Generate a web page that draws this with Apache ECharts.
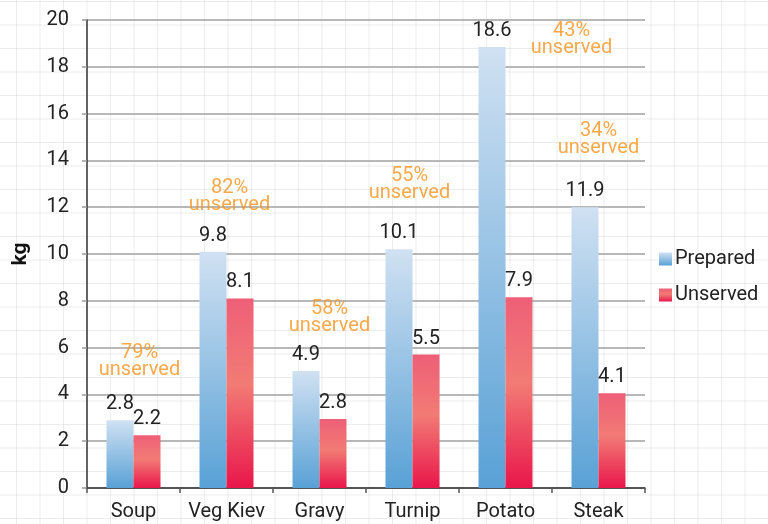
<!DOCTYPE html>
<html>
<head>
<meta charset="utf-8">
<script src="https://cdn.jsdelivr.net/npm/echarts@6/dist/echarts.min.js"></script>
<style>
  html, body {
    margin: 0;
    padding: 0;
    width: 768px;
    height: 524px;
    overflow: hidden;
    background-color: #fff;
    background-image:
      linear-gradient(to right, rgba(0, 0, 0, 0.07) 1px, transparent 1px),
      linear-gradient(to bottom, rgba(0, 0, 0, 0.07) 1px, transparent 1px);
    background-size: 23.5px 23.5px;
    background-position: 16px 1px;
  }
  #chart {
    width: 768px;
    height: 524px;
  }
</style>
</head>
<body>
<div id="chart"></div>
<script>
  // values
  var categories = ['Soup', 'Veg Kiev', 'Gravy', 'Turnip', 'Potato', 'Steak']
  var prepared = [2.9, 10.1, 5.0, 10.2, 18.85, 12.0]
  var unserved = [2.25, 8.1, 2.95, 5.7, 8.15, 4.05]
  var preparedLabels = ['2.8', '9.8', '4.9', '10.1', '18.6', '11.9']
  var unservedLabels = ['2.2', '8.1', '2.8', '5.5', '7.9', '4.1']
  var unservedPct = ['79%', '82%', '58%', '55%', '43%', '34%']
  var notePos = [5.4, 12.45, 7.3, 12.95, 19.15, 14.9]
  var noteShift = [6, 3, 10, -3, 66, 0]
  var yTicks = [0, 2, 4, 6, 8, 10, 12, 14, 16, 18, 20]

  var font = 'Roboto, "Liberation Sans", sans-serif'
  var fs = 20

  var myChart = echarts.init(document.getElementById('chart'))

  var blueGrad = new echarts.graphic.LinearGradient(0, 0, 0, 1, [
    { offset: 0, color: '#d0e1f2' },
    { offset: 1, color: '#59a1d6' },
  ])
  var redGrad = new echarts.graphic.LinearGradient(0, 0, 0, 1, [
    { offset: 0, color: '#ee5f77' },
    { offset: 0.45, color: '#f27b75' },
    { offset: 1, color: '#e9164a' },
  ])

  var option = {
    animation: false,
    textStyle: { fontFamily: font },
    grid: {
      left: 87,
      right: 123,
      top: 20,
      bottom: 36,
      containLabel: false,
      outerBoundsMode: 'none',
    },
    legend: {
      orient: 'vertical',
      left: 654,
      top: 244,
      itemWidth: 13,
      itemHeight: 13,
      itemGap: 16,
      icon: 'rect',
      data: ['Prepared', 'Unserved'],
      textStyle: { fontFamily: font, fontSize: fs, color: '#222', padding: [0, 0, 0, -2] },
    },
    xAxis: {
      type: 'category',
      data: categories,
      axisLine: { lineStyle: { color: '#333', width: 1.5 } },
      axisTick: { show: true, interval: 0, length: 5, lineStyle: { color: '#555', width: 1.5 } },
      axisLabel: { interval: 0, hideOverlap: false, fontFamily: font, fontSize: fs, color: '#222', margin: 14 },
    },
    yAxis: {
      type: 'value',
      min: 0,
      max: 20,
      interval: 2,
      name: 'kg',
      nameLocation: 'middle',
      nameGap: 56,
      nameRotate: 90,
      nameTextStyle: { fontFamily: font, fontSize: 21, fontWeight: 'bold', color: '#111' },
      axisLine: { show: true, lineStyle: { color: '#333', width: 1.5 } },
      axisTick: { show: true, length: 5, lineStyle: { color: '#999', width: 1.5 } },
      axisLabel: {
        fontFamily: font,
        fontSize: fs,
        color: '#222',
        margin: 18,
        formatter: function (v) {
          return yTicks.indexOf(v) >= 0 ? String(v) : ''
        },
      },
      splitLine: { lineStyle: { color: '#a0a0a0', width: 1.5 } },
    },
    series: [
      {
        name: 'Prepared',
        type: 'bar',
        barWidth: 27,
        barGap: '0%',
        itemStyle: { color: blueGrad },
        label: {
          show: true,
          position: 'top',
          distance: 6,
          fontFamily: font,
          fontSize: fs,
          color: '#222',
          formatter: function (p) {
            return preparedLabels[p.dataIndex]
          },
        },
        data: prepared,
      },
      {
        name: 'Unserved',
        type: 'bar',
        barWidth: 27,
        itemStyle: { color: redGrad },
        label: {
          show: true,
          position: 'top',
          distance: 6,
          fontFamily: font,
          fontSize: fs,
          color: '#222',
          formatter: function (p) {
            return unservedLabels[p.dataIndex]
          },
        },
        data: unserved,
      },
      {
        name: 'notes',
        type: 'scatter',
        symbolSize: 0,
        silent: true,
        z: 5,
        data: categories.map(function (c, i) {
          return {
            value: [i, notePos[i]],
            label: { offset: [noteShift[i], 0] },
          }
        }),
        label: {
          show: true,
          position: 'inside',
          fontFamily: font,
          fontSize: fs,
          lineHeight: 17,
          color: '#f7941d',
          align: 'center',
          verticalAlign: 'middle',
          formatter: function (p) {
            return unservedPct[p.dataIndex] + '\nunserved'
          },
        },
      },
    ],
  }
  myChart.setOption(option)
</script>
</body>
</html>
